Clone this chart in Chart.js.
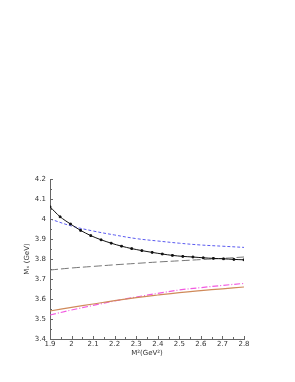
<!DOCTYPE html>
<html>
<head>
<meta charset="utf-8">
<script src="https://cdn.jsdelivr.net/npm/chart.js@4"></script>
<style>
  html, body { margin: 0; padding: 0; background: #fff; }
  #wrap { width: 295px; height: 382px; }
</style>
</head>
<body>
<div id="wrap"><canvas id="chart"></canvas></div>
<script>
// M^2 (GeV^2) sample points
const xCurve = [1.9, 2.0, 2.1, 2.2, 2.3, 2.4, 2.5, 2.6, 2.7, 2.8];
const xBlack = [1.9, 1.947, 1.995, 2.042, 2.089, 2.137, 2.184, 2.232, 2.279, 2.326,
                2.374, 2.421, 2.468, 2.516, 2.563, 2.611, 2.658, 2.705, 2.753, 2.8];

// M_X (GeV)
const blackVals = [4.061, 4.011, 3.975, 3.943, 3.917, 3.896, 3.879, 3.864, 3.852, 3.842,
                   3.833, 3.825, 3.818, 3.813, 3.81, 3.806, 3.803, 3.801, 3.798, 3.796];
const blueVals   = [4.0, 3.965, 3.94, 3.92, 3.902, 3.89, 3.879, 3.87, 3.864, 3.858];
const grayVals   = [3.745, 3.755, 3.763, 3.771, 3.778, 3.785, 3.791, 3.797, 3.803, 3.81];
const orangeVals = [3.54, 3.558, 3.575, 3.592, 3.607, 3.62, 3.632, 3.642, 3.651, 3.66];
const pinkVals   = [3.52, 3.545, 3.568, 3.59, 3.61, 3.628, 3.645, 3.657, 3.668, 3.678];

const xTicks = [1.9, 2.0, 2.1, 2.2, 2.3, 2.4, 2.5, 2.6, 2.7, 2.8];
const yTicks = [3.4, 3.5, 3.6, 3.7, 3.8, 3.9, 4.0, 4.1, 4.2];

const pts = (xs, ys) => xs.map((x, i) => ({ x: x, y: ys[i] }));
const fmt = v => String(Number(v.toFixed(2)));

// small inward ticks, major + minor, like the original plot
const inwardTicks = {
  id: 'inwardTicks',
  afterDraw(chart) {
    const { ctx, chartArea, scales } = chart;
    ctx.save();
    ctx.strokeStyle = '#666';
    ctx.lineWidth = 1;
    for (let i = 0; i < xTicks.length; i++) {
      const px = Math.round(scales.x.getPixelForValue(xTicks[i])) + 0.5;
      ctx.beginPath(); ctx.moveTo(px, chartArea.bottom); ctx.lineTo(px, chartArea.bottom - 3); ctx.stroke();
      if (i < xTicks.length - 1) {
        const mx = Math.round(scales.x.getPixelForValue(xTicks[i] + 0.05)) + 0.5;
        ctx.beginPath(); ctx.moveTo(mx, chartArea.bottom); ctx.lineTo(mx, chartArea.bottom - 2); ctx.stroke();
      }
    }
    for (let i = 0; i < yTicks.length; i++) {
      const py = Math.round(scales.y.getPixelForValue(yTicks[i])) + 0.5;
      ctx.beginPath(); ctx.moveTo(chartArea.left, py); ctx.lineTo(chartArea.left + 3, py); ctx.stroke();
      if (i < yTicks.length - 1) {
        const my = Math.round(scales.y.getPixelForValue(yTicks[i] + 0.05)) + 0.5;
        ctx.beginPath(); ctx.moveTo(chartArea.left, my); ctx.lineTo(chartArea.left + 2, my); ctx.stroke();
      }
    }
    ctx.restore();
  }
};

const tickFont = { family: 'DejaVu Sans', size: 7 };

new Chart(document.getElementById('chart'), {
  type: 'line',
  data: {
    datasets: [
      {
        data: pts(xBlack, blackVals),
        borderColor: '#111', backgroundColor: '#111', borderWidth: 1,
        pointStyle: 'rect', pointRadius: 1.2, tension: 0.3
      },
      {
        data: pts(xCurve, blueVals),
        borderColor: '#5a5af0', borderWidth: 1, borderDash: [3, 2],
        pointRadius: 0, tension: 0.4
      },
      {
        data: pts(xCurve, grayVals),
        borderColor: '#777', borderWidth: 1, borderDash: [8, 3],
        pointRadius: 0, tension: 0.4
      },
      {
        data: pts(xCurve, orangeVals),
        borderColor: '#d08a5a', borderWidth: 1.2,
        pointRadius: 0, tension: 0.4
      },
      {
        data: pts(xCurve, pinkVals),
        borderColor: '#f25ae0', borderWidth: 1.2, borderDash: [6, 2, 1, 2],
        pointRadius: 0, tension: 0.4
      }
    ]
  },
  options: {
    responsive: true,
    maintainAspectRatio: false,
    animation: false,
    layout: { padding: { left: 23, top: 179, right: 51, bottom: 25 } },
    plugins: { legend: { display: false }, tooltip: { enabled: false } },
    scales: {
      x: {
        type: 'linear', min: 1.9, max: 2.8,
        afterFit: s => { s.height = 18; },
        afterBuildTicks: s => { s.ticks = xTicks.map(v => ({ value: v })); },
        grid: { display: false, drawTicks: false },
        border: { display: true, color: '#666', width: 1 },
        ticks: { font: tickFont, color: '#333', padding: 1, maxRotation: 0, callback: v => fmt(v) },
        title: { display: true, text: 'M²(GeV²)', font: tickFont, color: '#333', padding: { top: 1, bottom: 0 } }
      },
      y: {
        min: 3.4, max: 4.2,
        afterFit: s => { s.width = 27; },
        afterBuildTicks: s => { s.ticks = yTicks.map(v => ({ value: v })); },
        grid: { display: false, drawTicks: false },
        border: { display: true, color: '#666', width: 1 },
        ticks: { font: tickFont, color: '#333', padding: 4, callback: v => fmt(v) },
        title: { display: true, text: 'Mₓ (GeV)', font: tickFont, color: '#333', padding: { top: 0, bottom: 0 } }
      }
    }
  },
  plugins: [inwardTicks]
});
</script>
</body>
</html>
